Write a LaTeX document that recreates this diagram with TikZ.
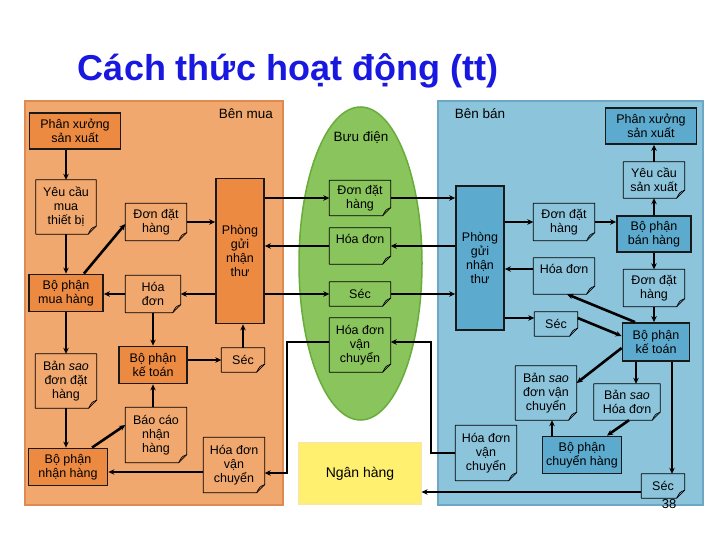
\documentclass[tikz,border=0pt]{standalone}
\usepackage{fontspec}
\setmainfont{Liberation Sans}
\usetikzlibrary{positioning, arrows.meta, shapes.geometric, backgrounds}

\definecolor{titleblue}{RGB}{24,24,224}
\definecolor{buyerfill}{RGB}{241,168,110}
\definecolor{buyeredge}{RGB}{222,138,80}
\definecolor{buyerdark}{RGB}{236,138,66}
\definecolor{sellerfill}{RGB}{140,196,220}
\definecolor{selleredge}{RGB}{108,168,198}
\definecolor{sellerdark}{RGB}{92,170,206}
\definecolor{postfill}{RGB}{138,196,92}
\definecolor{postedge}{RGB}{104,172,58}
\definecolor{bankfill}{RGB}{255,240,112}
\definecolor{bankedge}{RGB}{250,232,150}

\begin{document}
\begin{tikzpicture}[
  x=1pt, y=-1pt,
  font=\fontsize{12.5}{14}\selectfont,
  >={Stealth[length=6pt,width=5.5pt]},
  panel/.style={rectangle, line width=1.2pt, inner sep=0pt},
  sidelabel/.style={font=\fontsize{13.5}{15}\selectfont},
  deptbox/.style 2 args={rectangle, draw=black!90, line width=1.8pt, align=center, inner sep=1pt, minimum width=#1pt, minimum height=#2pt},
  buyerbox/.style 2 args={deptbox={#1}{#2}, fill=buyerdark},
  sellerbox/.style 2 args={deptbox={#1}{#2}, fill=sellerdark},
  paperdoc/.style 2 args={rectangle, align=center, inner sep=1pt, minimum width=#1pt, minimum height=#2pt,
    append after command={\pgfextra{\let\docnode\tikzlastnode
      \draw[line width=0.7pt, line join=round] (\docnode.north west) -- (\docnode.north east)
        -- ([yshift=8pt]\docnode.south east) -- ([xshift=-8pt]\docnode.south east)
        -- (\docnode.south west) -- cycle;
      \draw[line width=0.7pt] ([xshift=-8pt]\docnode.south east)
        .. controls ([xshift=-5pt,yshift=6pt]\docnode.south east) .. ([yshift=8pt]\docnode.south east);}}},
  flowarrow/.style={->, line width=1.8pt},
  diagarrow/.style={->, line width=2.6pt}
]

\useasboundingbox (0,0) rectangle (720,540);
\fill[white] (0,0) rectangle (720,540);

% Title
\node[font=\fontsize{36}{40}\selectfont\bfseries, text=titleblue] (title) at (288,71) {Cách thức hoạt động (tt)};

% Backgrounds
\node[panel, draw=buyeredge, fill=buyerfill, minimum width=258pt, minimum height=404pt] (buyer) at (154,303) {};
\node[panel, draw=selleredge, fill=sellerfill, minimum width=265pt, minimum height=404pt] (seller) at (570.5,303) {};
\node[ellipse, draw=postedge, fill=postfill, line width=1.5pt, minimum width=123pt, minimum height=313pt] (post) at (360.5,263.5) {};
\node[rectangle, draw=bankedge, fill=bankfill, line width=1.2pt, minimum width=122pt, minimum height=61pt, font=\fontsize{14}{16}\selectfont] (bank) at (360,473.5) {Ngân hàng};

\node[sidelabel] (buyerlabel) at (246,114) {Bên mua};
\node[sidelabel] (sellerlabel) at (480,114) {Bên bán};
\node[sidelabel] (postlabel) at (361,138) {Bưu điện};

% Buyer side
\node[buyerbox={91}{36}] (lPX) at (75,131) {Phân xưởng\\sản xuất};
\node[paperdoc={60}{54}] (lYC) at (66,207) {Yêu cầu\\mua\\thiết bị};
\node[paperdoc={61}{37}] (lDDH) at (156,222) {Đơn đặt\\hàng};
\node[buyerbox={48}{145}] (lPhong) at (240,251) {Phòng\\gửi\\nhận\\thư};
\node[buyerbox={74}{37}] (lMH) at (66,293) {Bộ phận\\mua hàng};
\node[paperdoc={55}{37}] (lHD) at (153,294) {Hóa\\đơn};
\node[buyerbox={68}{37}] (lKT) at (153,365) {Bộ phận\\kế toán};
\node[paperdoc={43}{24}] (lSec) at (243,360) {Séc};
\node[paperdoc={61}{54}] (lBS) at (66,381) {Bản \textit{sao}\\đơn đặt\\hàng};
\node[paperdoc={61}{55}] (lBC) at (156,435) {Báo cáo\\nhận\\hàng};
\node[buyerbox={79}{37}] (lNH) at (68,467) {Bộ phận\\nhận hàng};
\node[paperdoc={61}{55}] (lVC) at (234,465) {Hóa đơn\\vận\\chuyển};

% Post office
\node[paperdoc={61}{35}] (pDDH) at (360,198) {Đơn đặt\\hàng};
\node[paperdoc={61}{36}] (pHD) at (360,246) {Hóa đơn\\\mbox{}};
\node[paperdoc={61}{24}] (pSec) at (360,294) {Séc};
\node[paperdoc={61}{54}] (pVC) at (360,345) {Hóa đơn\\vận\\chuyển};

% Seller side
\node[sellerbox={91}{36}] (rPX) at (651,126) {Phân xưởng\\sản xuất};
\node[paperdoc={61}{36}] (rYC) at (654,180) {Yêu cầu\\sản xuất};
\node[sellerbox={48}{144}] (rPhong) at (480,258) {Phòng\\gửi\\nhận\\thư};
\node[paperdoc={61}{37}] (rDDH) at (564,222) {Đơn đặt\\hàng};
\node[sellerbox={74}{36}] (rBH) at (654,234) {Bộ phận\\bán hàng};
\node[paperdoc={61}{36}] (rHD) at (564,276) {Hóa đơn\\\mbox{}};
\node[paperdoc={61}{37}] (rDDH2) at (654,288) {Đơn đặt\\hàng};
\node[paperdoc={43}{24}] (rSec) at (556,324) {Séc};
\node[sellerbox={67}{38}] (rKT) at (656,342) {Bộ phận\\kế toán};
\node[paperdoc={61}{54}] (rBSVC) at (546,393) {Bản \textit{sao}\\đơn vận\\chuyển};
\node[paperdoc={66}{36}] (rBSHD) at (627,402) {Bản \textit{sao}\\Hóa đơn};
\node[paperdoc={61}{55}] (rVC) at (486,453) {Hóa đơn\\vận\\chuyển};
\node[sellerbox={79}{37}] (rCH) at (582,455) {Bộ phận\\chuyển hàng};
\node[paperdoc={43}{24}] (rSec2) at (663,486) {Séc};
\node[font=\fontsize{13}{14}\selectfont] (page) at (669,504) {38};

% Routing, buyer side
\draw[flowarrow] (lPX.south -| lYC.north) -- (lYC.north);
\draw[flowarrow] (lYC.south) -- (lMH.north);
\draw[diagarrow] ([xshift=-20pt]lMH.north east) -- ([yshift=-2pt]lDDH.west);
\draw[flowarrow] (lDDH.east) -- (lDDH.east -| lPhong.west);
\draw[flowarrow] (lPhong.west |- lHD.east) -- (lHD.east);
\draw[flowarrow] (lHD.west) -- (lHD.west -| lMH.east);
\draw[flowarrow] (lHD.south -| lKT.north) -- (lKT.north);
\draw[flowarrow] (lKT.east |- lSec.west) -- (lSec.west);
\draw[flowarrow] (lSec.north) -- (lSec.north |- lPhong.south);
\draw[flowarrow] (lMH.south) -- (lMH.south |- lBS.north);
\draw[flowarrow] (lBS.south) -- (lBS.south |- lNH.north);
\draw[diagarrow] ([xshift=24pt]lNH.north) -- ([yshift=10pt]lBC.west);
\draw[flowarrow] (lBC.north -| lKT.south) -- (lKT.south);
\draw[flowarrow] ([yshift=-7pt]lVC.west) -- ([yshift=-7pt]lVC.west -| lNH.east);

% Routing through the post office
\draw[flowarrow] (lPhong.east |- pDDH.west) -- (pDDH.west);
\draw[flowarrow] (pHD.west) -- (pHD.west -| lPhong.east);
\draw[flowarrow] (lPhong.east |- pSec.west) -- (pSec.west);
\draw[flowarrow] ([yshift=3pt]pVC.west) -- ++(-42pt,0) |- ([yshift=-8pt]lVC.east);
\draw[flowarrow] (pDDH.east) -- (pDDH.east -| rPhong.west);
\draw[flowarrow] (rPhong.west |- pHD.east) -- (pHD.east);
\draw[flowarrow] (pSec.east) -- (pSec.east -| rPhong.west);
\draw[flowarrow] (rVC.west) -- ++(-24pt,0) |- ([yshift=3pt]pVC.east);
\draw[flowarrow] ([yshift=-6pt]rSec2.west) -- ([yshift=-6pt]rSec2.west -| bank.east);

% Routing, seller side
\draw[flowarrow] (rPhong.east |- rDDH.west) -- (rDDH.west);
\draw[flowarrow] (rDDH.east) -- (rDDH.east -| rBH.west);
\draw[flowarrow] (rBH.north) -- (rBH.north |- rYC.south);
\draw[flowarrow] (rYC.north) -- (rYC.north |- rPX.south);
\draw[flowarrow] (rBH.south) -- (rBH.south |- rDDH2.north);
\draw[flowarrow] ([yshift=7pt]rHD.west) -- ([yshift=7pt]rHD.west -| rPhong.east);
\draw[diagarrow] ([xshift=-21pt]rKT.north) -- ([xshift=3pt]rHD.south);
\draw[flowarrow] ([yshift=6pt]rSec.west -| rPhong.east) -- ([yshift=6pt]rSec.west);
\draw[diagarrow] ([yshift=6pt]rSec.east) -- ([yshift=6pt]rKT.west);
\draw[flowarrow] (rDDH2.south) -- (rDDH2.south |- rKT.north);
\draw[diagarrow] ([yshift=-6pt]rKT.west) -- ([yshift=10pt]rBSVC.east);
\draw[flowarrow] ([xshift=-20pt]rKT.south) -- ([xshift=-20pt]rKT.south |- rBSHD.north);
\draw[flowarrow] ([xshift=16pt]rKT.south) -- ([xshift=16pt]rKT.south |- rSec2.north);
\draw[diagarrow] ([xshift=2pt]rBSHD.south) -- ([xshift=25pt]rCH.north);
\draw[flowarrow] ([xshift=-30pt]rCH.north) -- ([xshift=-30pt]rCH.north |- rBSVC.south);

\end{tikzpicture}
\end{document}
